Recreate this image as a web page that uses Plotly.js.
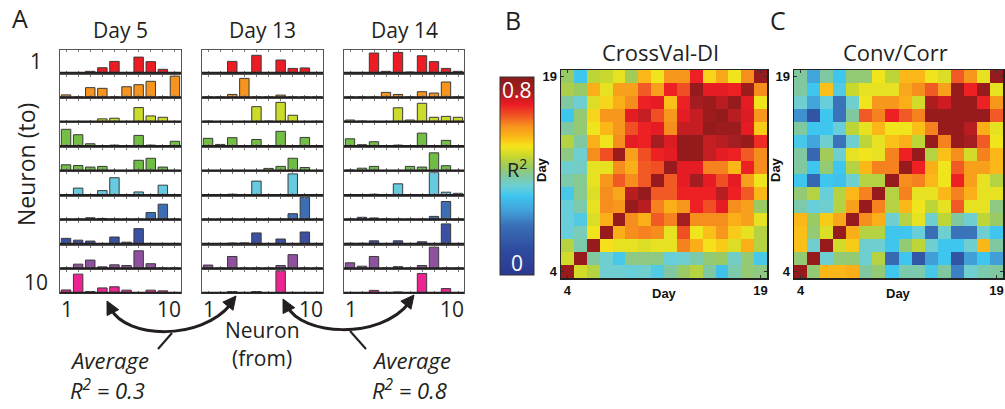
<!DOCTYPE html>
<html>
<head>
<meta charset="utf-8">
<script src="https://cdn.plot.ly/plotly-3.0.1.min.js"></script>
<style>
  html, body { margin: 0; padding: 0; background: #fff; }
  #chart { width: 1005px; height: 409px; }
</style>
</head>
<body>
<div id="chart"></div>
<script>
// ---- Panel A: inferred connection weights, rows = target neuron, bars = source neuron ----
const neuronIds = [1, 2, 3, 4, 5, 6, 7, 8, 9, 10];
const dayLabels = ['Day 5', 'Day 13', 'Day 14'];
const neuronColors = ['#ed1c24', '#f7941d', '#cbdb2a', '#72bf44', '#6fbd45',
                      '#66cbe0', '#3c6eb4', '#3b50a2', '#8f519f', '#ec2390'];

const weightsDay5 = [
  [0, 0, 0.06, 0.22, 0.50, 0, 0.69, 0.49, 0.15, 0],
  [0.10, 0, 0.42, 0.39, 0, 0.46, 0.55, 0.70, 0, 0.93],
  [0, 0, 0, 0.12, 0.15, 0, 0.62, 0.25, 0.19, 0],
  [0.74, 0.50, 0.10, 0, 0.04, 0, 0.47, 0.04, 0, 0.21],
  [0.25, 0.22, 0.15, 0.18, 0, 0, 0.45, 0.54, 0.15, 0],
  [0, 0.30, 0, 0.19, 0.76, 0, 0.13, 0, 0.43, 0],
  [0, 0, 0.07, 0.04, 0, 0, 0, 0.30, 0.67, 0],
  [0.24, 0.16, 0.12, 0, 0.30, 0.07, 0.67, 0, 0, 0],
  [0, 0.18, 0.36, 0.06, 0.15, 0.12, 0.77, 0.20, 0, 0],
  [0.12, 0.82, 0.05, 0.21, 0.26, 0.11, 0, 0.11, 0.08, 0]
];
const weightsDay13 = [
  [0, 0, 0.50, 0, 0.77, 0, 0.56, 0.19, 0.21, 0],
  [0, 0, 0.12, 0.83, 0, 0, 0.09, 0, 0, 0],
  [0.02, 0, 0, 0, 0.66, 0.02, 0.85, 0.28, 0, 0.01],
  [0.34, 0.07, 0.37, 0, 0.29, 0, 0.65, 0, 0.38, 0],
  [0, 0, 0, 0, 0, 0.09, 0.18, 0.54, 0.13, 0],
  [0, 0, 0.03, 0, 0.61, 0, 0, 0.93, 0, 0],
  [0, 0, 0, 0, 0, 0, 0, 0.25, 0.98, 0],
  [0, 0, 0.03, 0.04, 0.48, 0, 0.21, 0, 0.52, 0],
  [0.14, 0, 0.52, 0, 0, 0, 0.12, 0.60, 0, 0],
  [0, 0, 0.05, 0, 0.05, 0, 0.97, 0, 0, 0]
];
const weightsDay14 = [
  [0, 0, 0.87, 0.06, 0.90, 0.03, 0.75, 0.49, 0.19, 0.06],
  [0, 0, 0, 0.21, 0.12, 0, 0.24, 0.18, 0.67, 0],
  [0.07, 0.02, 0, 0, 0.61, 0.07, 0.81, 0.19, 0.23, 0.19],
  [0.32, 0.06, 0.19, 0, 0.04, 0, 0.57, 0, 0.25, 0],
  [0.02, 0.10, 0.18, 0, 0, 0.18, 0.15, 0.78, 0.21, 0],
  [0, 0, 0.03, 0, 0.49, 0, 0, 1.00, 0.12, 0.07],
  [0, 0.09, 0.06, 0.02, 0, 0, 0, 0.13, 0.79, 0],
  [0.02, 0.02, 0.13, 0, 0.13, 0, 0.09, 0, 0.88, 0],
  [0.24, 0.09, 0.52, 0, 0.07, 0, 0.12, 0.93, 0, 0],
  [0, 0, 0.10, 0, 0.03, 0, 0.85, 0, 0.18, 0]
];

// ---- Panels B and C: day-by-day similarity (R^2), rows listed from day 19 down to day 4 ----
const days = [4, 5, 6, 7, 8, 9, 10, 11, 12, 13, 14, 15, 16, 17, 18, 19];
const crossValRowsTopDown = [
  [.49,.36,.53,.54,.57,.50,.63,.58,.67,.67,.77,.60,.65,.58,.68,.87],
  [.51,.49,.64,.57,.66,.66,.72,.66,.77,.73,.87,.78,.78,.77,.86,.68],
  [.45,.41,.56,.60,.64,.68,.77,.78,.62,.77,.84,.86,.82,.87,.78,.58],
  [.36,.48,.60,.67,.67,.78,.81,.73,.67,.78,.81,.86,.88,.82,.79,.67],
  [.45,.48,.58,.63,.67,.73,.77,.78,.68,.81,.81,.88,.86,.86,.78,.61],
  [.52,.45,.64,.58,.68,.78,.77,.84,.79,.88,.88,.81,.82,.84,.87,.76],
  [.47,.41,.68,.73,.86,.66,.73,.77,.78,.88,.88,.81,.78,.77,.72,.68],
  [.41,.42,.57,.57,.68,.64,.72,.73,.87,.78,.78,.69,.69,.63,.77,.68],
  [.44,.46,.57,.67,.72,.68,.72,.87,.72,.78,.84,.78,.73,.78,.66,.58],
  [.37,.46,.56,.68,.65,.82,.87,.72,.72,.77,.77,.77,.82,.77,.72,.63],
  [.40,.44,.57,.68,.67,.87,.82,.69,.64,.67,.77,.73,.78,.68,.66,.49],
  [.40,.38,.56,.64,.87,.68,.64,.72,.69,.84,.68,.68,.68,.64,.66,.57],
  [.40,.43,.58,.87,.64,.68,.69,.68,.57,.73,.58,.62,.67,.61,.57,.52],
  [.52,.44,.87,.59,.57,.57,.56,.57,.57,.69,.64,.59,.61,.56,.64,.52],
  [.55,.87,.45,.41,.37,.47,.47,.47,.40,.41,.44,.48,.49,.42,.48,.37],
  [.87,.55,.52,.41,.41,.40,.41,.38,.45,.49,.52,.45,.35,.44,.48,.47]
];
const convCorrRowsTopDown = [
  [.45,.30,.45,.36,.48,.48,.58,.53,.63,.63,.58,.56,.72,.67,.57,.87],
  [.45,.36,.62,.38,.54,.57,.57,.57,.65,.68,.72,.66,.87,.77,.87,.57],
  [.41,.30,.40,.23,.41,.58,.67,.67,.64,.55,.83,.80,.87,.87,.77,.67],
  [.27,.14,.36,.23,.45,.72,.69,.77,.72,.69,.87,.87,.87,.87,.87,.72],
  [.45,.36,.36,.40,.53,.57,.63,.58,.58,.62,.69,.87,.87,.82,.64,.57],
  [.37,.30,.41,.23,.41,.53,.57,.62,.64,.53,.87,.69,.87,.84,.72,.58],
  [.45,.20,.50,.41,.57,.58,.57,.69,.77,.87,.52,.62,.68,.55,.69,.63],
  [.45,.36,.48,.36,.52,.63,.69,.69,.87,.77,.64,.58,.72,.66,.66,.63],
  [.36,.20,.36,.35,.41,.52,.52,.87,.68,.69,.63,.58,.77,.66,.57,.52],
  [.48,.52,.40,.52,.63,.69,.87,.52,.69,.57,.57,.63,.69,.64,.57,.57],
  [.44,.40,.41,.52,.66,.87,.69,.52,.63,.58,.53,.57,.72,.57,.57,.47],
  [.63,.49,.61,.65,.87,.68,.64,.41,.52,.57,.41,.53,.45,.41,.53,.49],
  [.62,.48,.56,.87,.64,.52,.52,.36,.36,.40,.22,.41,.23,.23,.41,.36],
  [.62,.41,.87,.55,.61,.41,.41,.36,.48,.53,.41,.36,.36,.41,.63,.45],
  [.48,.87,.41,.48,.48,.41,.52,.21,.36,.15,.29,.36,.14,.29,.36,.29],
  [.87,.48,.63,.63,.64,.45,.48,.36,.44,.44,.37,.45,.25,.41,.44,.45]
];

const r2Scale = [
  [0.00, '#2b3990'], [0.12, '#2e4a9e'], [0.25, '#3a6fb7'], [0.33, '#42a4dc'],
  [0.40, '#3ec6ef'], [0.45, '#6dcfd6'], [0.50, '#80c9a0'], [0.55, '#9dca5c'],
  [0.60, '#c8d82d'], [0.65, '#f5e51b'], [0.70, '#fbb617'], [0.75, '#f7941d'],
  [0.80, '#f15a24'], [0.86, '#ed1c24'], [0.93, '#a51d20'], [1.00, '#8b1a1a']
];

// ---- helpers: page pixels -> paper fractions ----
const W = 1005, H = 409;
const px = x => x / W;
const py = y => 1 - y / H;

const traces = [];
const layout = {
  width: W, height: H,
  margin: {l: 0, r: 0, t: 0, b: 0},
  paper_bgcolor: '#ffffff', plot_bgcolor: '#ffffff',
  showlegend: false, hovermode: false,
  shapes: [], annotations: []
};

const allWeights = [weightsDay5, weightsDay13, weightsDay14];
const colSpans = [[60, 181], [202, 323], [344, 464]];
const rowPitch = 24.44, firstBase = 72.7, panelH = 22.6;

let k = 0;
allWeights.forEach((w, c) => {
  w.forEach((rowVals, r) => {
    k += 1;
    const suf = k === 1 ? '' : String(k);
    const base = firstBase + r * rowPitch;
    layout['xaxis' + suf] = {
      domain: [px(colSpans[c][0]), px(colSpans[c][1])],
      anchor: 'y' + suf, range: [0.5, 10.5],
      showline: true, linecolor: '#555', linewidth: 1, mirror: 'allticks',
      ticks: 'inside', ticklen: 2, tickcolor: '#777', tickvals: neuronIds,
      showticklabels: false, showgrid: false, zeroline: false, fixedrange: true
    };
    layout['yaxis' + suf] = {
      domain: [py(base), py(base - panelH)],
      anchor: 'x' + suf, range: [0, 1],
      showline: true, linecolor: '#555', linewidth: 1, mirror: true,
      ticks: '', showticklabels: false, showgrid: false, zeroline: false, fixedrange: true
    };
    traces.push({
      type: 'bar', x: neuronIds, y: rowVals, width: 0.78,
      xaxis: 'x' + suf, yaxis: 'y' + suf, cliponaxis: false,
      marker: {color: neuronColors[r], line: {color: '#3a3a3a', width: 1}}
    });
    layout.shapes.push({
      type: 'line', xref: 'x' + suf + ' domain', yref: 'y' + suf + ' domain',
      x0: 0, x1: 1, y0: 0, y1: 0, line: {color: '#231f20', width: 2}
    });
  });
});

// Heatmaps B and C
const boldFont = {family: 'Liberation Sans, Arial, sans-serif', size: 13, color: '#111', weight: 'bold'};
const heatSpans = [[561, 767], [794, 1003]];
const heatData = [crossValRowsTopDown, convCorrRowsTopDown];
heatData.forEach((rows, i) => {
  const suf = String(31 + i);
  const axisStyle = {
    range: [3.5, 19.5], tickvals: [4, 19], ticktext: ['4', '19'],
    ticks: 'inside', ticklen: 3, tickcolor: '#333', tickfont: boldFont,
    showline: true, mirror: 'allticks', linecolor: '#222', linewidth: 1.5,
    showgrid: false, zeroline: false, fixedrange: true
  };
  layout['xaxis' + suf] = Object.assign({
    domain: [px(heatSpans[i][0]), px(heatSpans[i][1])], anchor: 'y' + suf
  }, axisStyle);
  layout['yaxis' + suf] = Object.assign({
    domain: [py(278), py(70)], anchor: 'x' + suf
  }, axisStyle);
  traces.push({
    type: 'heatmap', x: days, y: days, z: rows.slice().reverse(),
    xaxis: 'x' + suf, yaxis: 'y' + suf,
    colorscale: r2Scale, zmin: 0, zmax: 0.9, xgap: 0, ygap: 0,
    showscale: i === 0,
    colorbar: {
      x: px(500), xanchor: 'left', thickness: 34, thicknessmode: 'pixels',
      y: py(176), yanchor: 'middle', len: 198 / H, lenmode: 'fraction',
      xpad: 0, ypad: 0, outlinewidth: 1, outlinecolor: '#333',
      ticks: '', showticklabels: false
    }
  });
});

// ---- text ----
const cal = 'Open Sans, Lato, sans-serif';
const ink = '#231f20';
function txt(x, y, text, size, extra) {
  layout.annotations.push(Object.assign({
    xref: 'paper', yref: 'paper', x: px(x), y: py(y), text: text,
    showarrow: false, xanchor: 'center', yanchor: 'middle',
    font: {family: cal, size: size, color: ink}
  }, extra || {}));
}
txt(20, 18, 'A', 25);
txt(513, 20, 'B', 25);
txt(778, 20, 'C', 25);
dayLabels.forEach((d, c) => txt((colSpans[c][0] + colSpans[c][1]) / 2, 30, d, 21));
txt(36, 61, '1', 21);
txt(36, 282, '10', 21);
txt(26, 165, 'Neuron (to)', 23, {textangle: -90});
colSpans.forEach(s => {
  txt(s[0] + 7, 309, '1', 21);
  txt(s[1] - 12, 309, '10', 21);
});
txt(262, 330, 'Neuron', 21);
txt(262, 358, '(from)', 21);
txt(68, 360, '<i>Average</i>', 22, {xanchor: 'left'});
txt(68, 389, '<i>R<sup>2</sup> = 0.3</i>', 22, {xanchor: 'left'});
txt(370, 360, '<i>Average</i>', 22, {xanchor: 'left'});
txt(370, 389, '<i>R<sup>2</sup> = 0.8</i>', 22, {xanchor: 'left'});
txt(660, 52, 'CrossVal-DI', 22);
txt(895, 52, 'Conv/Corr', 22);

txt(664, 293, 'Day', 13, {font: boldFont});
txt(898, 293, 'Day', 13, {font: boldFont});
txt(541, 170, 'Day', 13, {font: boldFont, textangle: -90});
txt(775, 170, 'Day', 13, {font: boldFont, textangle: -90});

// colour bar captions
txt(517, 90, '0.8', 21, {font: {family: cal, size: 21, color: '#ffffff'}});
txt(517, 168, 'R<sup>2</sup>', 20, {font: {family: cal, size: 20, color: '#222'}});
txt(517, 263, '0', 21, {font: {family: cal, size: 21, color: '#ffffff'}});

// ---- curved double arrows linking the days ----
function P(x, y) { return px(x) + ',' + py(y); }
function curve(a, c1, c2, b) {
  layout.shapes.push({
    type: 'path', xref: 'paper', yref: 'paper',
    path: 'M' + P(a[0], a[1]) + ' C' + P(c1[0], c1[1]) + ' ' + P(c2[0], c2[1]) + ' ' + P(b[0], b[1]),
    line: {color: ink, width: 3}
  });
}
function head(tip, dir) {
  const L = 13, Hw = 6.5;
  const n = Math.hypot(dir[0], dir[1]);
  const ux = dir[0] / n, uy = dir[1] / n;
  const bx = tip[0] - ux * L, by = tip[1] - uy * L;
  const p1 = [bx - uy * Hw, by + ux * Hw], p2 = [bx + uy * Hw, by - ux * Hw];
  layout.shapes.push({
    type: 'path', xref: 'paper', yref: 'paper',
    path: 'M' + P(tip[0], tip[1]) + ' L' + P(p1[0], p1[1]) + ' L' + P(p2[0], p2[1]) + ' Z',
    fillcolor: ink, line: {color: ink, width: 1}
  });
}
function seg(a, b) {
  layout.shapes.push({
    type: 'line', xref: 'paper', yref: 'paper',
    x0: px(a[0]), y0: py(a[1]), x1: px(b[0]), y1: py(b[1]),
    line: {color: ink, width: 2}
  });
}
curve([111, 309], [126, 338], [200, 342], [231, 304]);
head([107, 301], [-0.45, -0.89]);
head([236, 296], [0.62, -0.78]);
seg([172, 333], [158, 349]);

curve([287, 306], [302, 336], [380, 340], [409, 303]);
head([283, 299], [-0.45, -0.89]);
head([414, 295], [0.62, -0.78]);
seg([350, 331], [366, 349]);

Plotly.newPlot('chart', traces, layout, {staticPlot: true, displayModeBar: false});
</script>
</body>
</html>
